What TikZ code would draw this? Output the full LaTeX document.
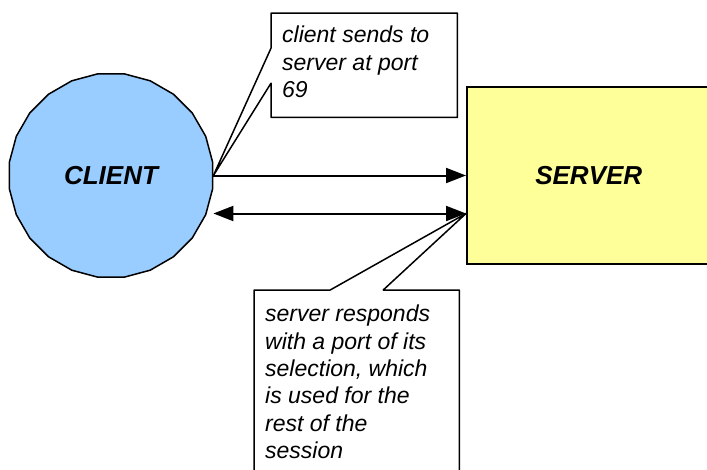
\documentclass[tikz,border=0pt]{standalone}
\usepackage{fontspec}
\setmainfont{Liberation Sans}
\usepackage{tikz}
\usetikzlibrary{calc, positioning, arrows.meta, shapes.geometric}
\definecolor{ClientBlue}{RGB}{153,204,255}
\definecolor{ServerYellow}{RGB}{255,255,153}

\begin{document}
\begin{tikzpicture}[
  x=1pt, y=1pt,
  msgtip/.tip={Triangle[length=20pt, width=15pt]},
  host/.style={draw, line width=1.5pt, font=\fontsize{26}{30}\selectfont\bfseries\itshape},
  clientnode/.style={host, regular polygon, regular polygon sides=24, minimum size=205pt, inner sep=0pt, fill=ClientBlue},
  servernode/.style={host, rectangle, minimum width=244pt, minimum height=177pt, inner sep=0pt, fill=ServerYellow},
  msg/.style={line width=2pt, -msgtip},
  twoway/.style={line width=2pt, msgtip-msgtip},
  note/.style={draw, line width=1.5pt, fill=white, line join=round},
  notearea/.style={anchor=north west, inner sep=0pt},
  notetext/.style={font=\fontsize{23}{27.3}\selectfont\itshape, align=left, anchor=north west, inner sep=0pt}
]
\useasboundingbox (0,0) rectangle (707,-469);

% Hosts
\node[clientnode] (client) at (111,-175.5) {CLIENT};
\node[servernode, anchor=north west] (server) at (466,-86) {SERVER};

% Note: client request
\node[notearea, minimum width=186pt, minimum height=104pt] (sendnote) at (271,-13) {};
\draw[note] (sendnote.north west) -- (sendnote.north east) -- (sendnote.south east) -- (sendnote.south west)
  -- ([yshift=-18pt]sendnote.west) -- (client.east) -- ([yshift=17pt]sendnote.west) -- cycle;
\node[notetext] (sendtext) at (282,-26) {client sends to\\server at port\\69};

% Note: server reply
\coordinate (reply) at ([yshift=-38pt]client.east -| server.west);
\node[notearea, minimum width=205pt, minimum height=200pt] (replynote) at (254,-290) {};
\draw[note] (replynote.south west) -- (replynote.north west) -- ([xshift=-26.5pt]replynote.north)
  -- (reply) -- ([xshift=26.5pt]replynote.north) -- (replynote.north east) -- (replynote.south east) -- cycle;
\node[notetext] (replytext) at (265,-305) {server responds\\with a port of its\\selection, which\\is used for the\\rest of the\\session};

% Messages
\draw[msg] (client.east) -- (client.east -| server.west);
\draw[twoway] (client.east |- reply) -- (reply);
\end{tikzpicture}
\end{document}
